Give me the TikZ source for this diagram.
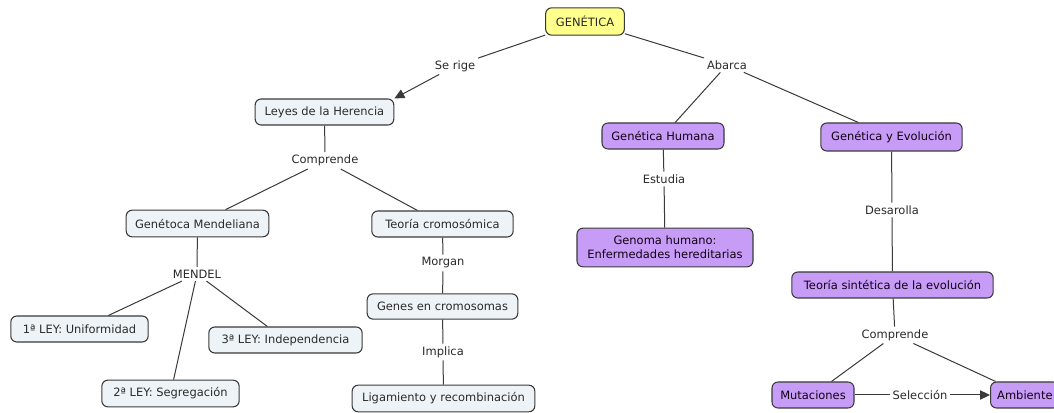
\documentclass[tikz,border=0pt]{standalone}
\usepackage{fontspec}
\setmainfont{DejaVu Sans}
\usetikzlibrary{arrows.meta}
\definecolor{boxgrey}{HTML}{EDF3F6}
\definecolor{boxpurple}{HTML}{C79CF7}
\definecolor{boxyellow}{HTML}{FFFF8C}
\definecolor{edgecol}{HTML}{3A3A3A}
\definecolor{txtcol}{HTML}{2A2A2A}
\begin{document}
\begin{tikzpicture}[x=0.75pt,y=-0.75pt,
  base/.style={draw=edgecol, line width=0.8pt, rounded corners=4.5pt, inner sep=0pt, align=center, text=txtcol, font=\fontsize{8.6}{10.5}\selectfont},
  gbox/.style={base, fill=boxgrey},
  pbox/.style={base, fill=boxpurple, text={black!85!violet}},
  ybox/.style={base, fill=boxyellow},
  lbl/.style={inner sep=2pt, text=txtcol, font=\fontsize{8.6}{10.5}\selectfont},
  conn/.style={draw=edgecol, line width=0.75pt},
  arr/.style={conn, -{Triangle[length=7.5pt,width=7pt]}}]
\useasboundingbox[fill=white] (0,0) rectangle (1054,413);

% nodes
\node[ybox, minimum width=59pt, minimum height=20.5pt] (gen) at (585,21.5) {GENÉTICA};
\node[lbl] (serige) at (455,66) {Se rige};
\node[lbl] (abarca) at (727,65) {Abarca};

\node[gbox, minimum width=104pt, minimum height=19.5pt] (leyes) at (324.5,112) {Leyes de la Herencia};
\node[lbl] (comp1) at (325,160.5) {Comprende};
\node[gbox, minimum width=107pt, minimum height=20pt] (mend) at (197.5,223.5) {Genétoca Mendeliana};
\node[lbl] (mendel) at (197,274) {MENDEL};
\node[gbox, minimum width=103pt, minimum height=19.5pt] (ley1) at (79.5,329) {1ª LEY: Uniformidad};
\node[gbox, minimum width=103pt, minimum height=20pt] (ley2) at (170.5,393.5) {2ª LEY: Segregación};
\node[gbox, minimum width=115pt, minimum height=19.5pt] (ley3) at (285.5,340) {3ª LEY: Independencia};

\node[gbox, minimum width=106pt, minimum height=19.5pt] (teoc) at (442.5,224) {Teoría cromosómica};
\node[lbl] (morgan) at (443,263) {Morgan};
\node[gbox, minimum width=113pt, minimum height=19pt] (genes) at (442.5,306.5) {Genes en cromosomas};
\node[lbl] (implica) at (443,352) {Implica};
\node[gbox, minimum width=137pt, minimum height=20pt] (liga) at (443.5,398.5) {Ligamiento y recombinación};

\node[pbox, minimum width=91.5pt, minimum height=19.5pt] (ghum) at (663,136) {Genética Humana};
\node[lbl] (estudia) at (664,179) {Estudia};
\node[pbox, minimum width=132pt, minimum height=29pt] (genoma) at (665,247.5) {Genoma humano:\\Enfermedades hereditarias};

\node[pbox, minimum width=106pt, minimum height=21pt] (gevo) at (891.5,137) {Genética y Evolución};
\node[lbl] (desar) at (892,210) {Desarolla};
\node[pbox, minimum width=151pt, minimum height=19.5pt] (tsint) at (892.5,285) {Teoría sintética de la evolución};
\node[lbl] (comp2) at (895,335) {Comprende};
\node[pbox, minimum width=61.5pt, minimum height=19.5pt] (mut) at (813,395) {Mutaciones};
\node[lbl] (selec) at (920,395) {Selección};
\node[pbox, inner xsep=5pt, minimum height=19.5pt, anchor=west] (amb) at (990,395) {Ambiente};

% connectors
\draw[conn] (gen) -- (serige);
\draw[arr] (serige) -- (leyes.north east);
\draw[conn] (gen) -- (abarca);
\draw[conn] (abarca) -- (ghum);
\draw[conn] (abarca) -- (gevo);

\draw[conn] (leyes) -- (comp1);
\draw[conn] (comp1) -- (mend);
\draw[conn] (comp1) -- (teoc);
\draw[conn] (mend) -- (mendel);
\draw[conn] (mendel) -- (ley1);
\draw[conn] (mendel) -- (ley2);
\draw[conn] (mendel) -- (ley3);
\draw[conn] (teoc) -- (morgan);
\draw[conn] (morgan) -- (genes);
\draw[conn] (genes) -- (implica);
\draw[conn] (implica) -- (liga);

\draw[conn] (ghum) -- (estudia);
\draw[conn] (estudia) -- (genoma);
\draw[conn] (gevo) -- (desar);
\draw[conn] (desar) -- (tsint);
\draw[conn] (tsint) -- (comp2);
\draw[conn] (comp2) -- (mut);
\draw[conn] (comp2) -- (amb);
\draw[conn] (mut) -- (selec);
\draw[arr] (selec) -- (amb);
\end{tikzpicture}
\end{document}
